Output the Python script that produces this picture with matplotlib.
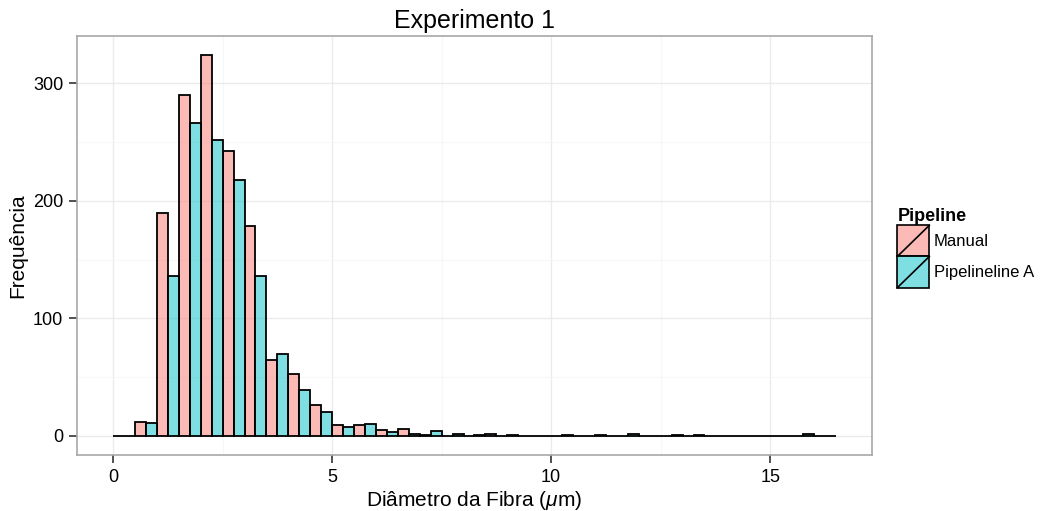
import matplotlib
matplotlib.use("Agg")
import matplotlib.pyplot as plt
import numpy as np
from matplotlib.colors import to_rgba
from matplotlib.legend_handler import HandlerBase
from matplotlib.patches import Rectangle
from matplotlib.lines import Line2D

plt.rcParams['font.family'] = ['Liberation Sans', 'DejaVu Sans']
plt.rcParams['mathtext.fontset'] = 'custom'
plt.rcParams['mathtext.it'] = 'Liberation Sans:italic'
plt.rcParams['mathtext.rm'] = 'Liberation Sans'

# Bin left edges (binwidth 0.5)
bin_width = 0.5
bin_edges = np.arange(0, 16.5, bin_width)
manual = [0, 12, 190, 290, 324, 242, 179, 65, 53, 26,
          9, 9, 5, 6, 1, 0, 0, 2, 1, 0,
          0, 0, 1, 0, 0, 0, 0, 0, 0, 0,
          0, 0, 0]
pipeline_a = [0, 11, 136, 266, 252, 218, 136, 70, 39, 20,
              8, 10, 3, 2, 4, 2, 1, 0, 0, 0,
              1, 0, 0, 2, 0, 1, 1, 0, 0, 0,
              0, 2, 0]
series_names = ["Manual", "Pipelineline A"]
series_colors = ["#F8766D", "#00BFC4"]
xticks = [0, 5, 10, 15]
yticks = [0, 100, 200, 300]

W, H = 1042, 511
fig = plt.figure(figsize=(W / 100, H / 100), dpi=100)
ax = fig.add_axes([77 / W, 1 - 455 / H, (872 - 77) / W, (455 - 36) / H])

half = bin_width / 2
for i, (vals, col) in enumerate(zip([manual, pipeline_a], series_colors)):
    ax.bar(bin_edges + i * half, vals, width=half, align='edge',
           facecolor=to_rgba(col, 0.5), edgecolor='black', linewidth=1.3, zorder=3)

ymax = max(max(manual), max(pipeline_a))
xr = 16.5
ax.set_xlim(-0.05 * xr, xr * 1.05)
ax.set_ylim(-0.05 * ymax, ymax * 1.05)

ax.set_xticks(xticks)
ax.set_yticks(yticks)
ax.set_xticks([2.5, 7.5, 12.5], minor=True)
ax.set_yticks([50, 150, 250], minor=True)
ax.grid(True, which='major', color='#EBEBEB', linewidth=1.0, zorder=0)
ax.grid(True, which='minor', color='#F7F7F7', linewidth=0.8, zorder=0)
ax.set_axisbelow(True)
ax.tick_params(which='minor', length=0)
ax.tick_params(which='major', length=6, width=1.2, color='#333333', labelsize=13,
               labelcolor='black', pad=4)
for s in ax.spines.values():
    s.set_color('#A8A8A8')
    s.set_linewidth(1.2)

ax.set_title("Experimento 1", fontsize=18, pad=6)
ax.set_xlabel(r"Diâmetro da Fibra ($\mu$m)", fontsize=15, labelpad=2)
ax.set_ylabel("Frequência", fontsize=15, labelpad=4)


class SlashHandler(HandlerBase):
    def __init__(self, color):
        super().__init__()
        self.color = color

    def create_artists(self, legend, orig_handle, xdescent, ydescent, width, height, fontsize, trans):
        r = Rectangle((-xdescent, -ydescent), width, height, facecolor=to_rgba(self.color, 0.5),
                      edgecolor='black', linewidth=1.2, transform=trans)
        l = Line2D([-xdescent, -xdescent + width], [-ydescent, -ydescent + height],
                   color='black', linewidth=1.2, transform=trans)
        return [r, l]


handles = [Rectangle((0, 0), 1, 1) for _ in series_names]
hmap = {h: SlashHandler(c) for h, c in zip(handles, series_colors)}
leg = fig.legend(handles, series_names, handler_map=hmap, title="Pipeline",
                 loc='upper left', bbox_to_anchor=(894 / W, 1 - 205 / H),
                 frameon=False, fontsize=12, title_fontsize=13,
                 handlelength=1.92, handleheight=2.5, handletextpad=0.25,
                 labelspacing=0.0, borderpad=0.2, borderaxespad=0)
leg.get_title().set_fontweight('bold')
leg._legend_box.align = 'left'

fig.savefig("out.png", dpi=100)
